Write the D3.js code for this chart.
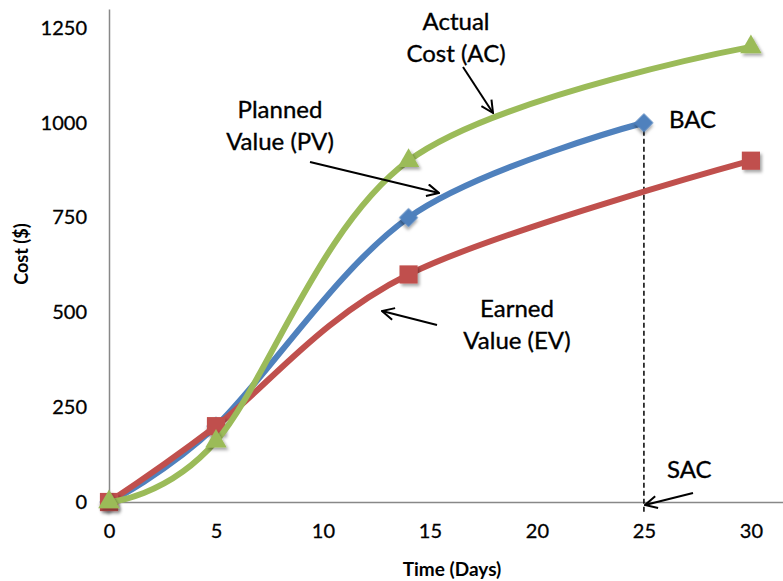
<!DOCTYPE html>
<html>
<head>
<meta charset="utf-8">
<script src="https://cdn.jsdelivr.net/npm/d3@7"></script>
<style>
  html, body { margin: 0; padding: 0; background: #fff; }
  svg { display: block; font-family: Lato, "Noto Sans", sans-serif; }
</style>
</head>
<body>
<svg id="chart" width="783" height="581"></svg>
<script>
// Earned value curves: cost in dollars against time in days
const pvDays = [0, 5, 14, 25];
const pvValues = [0, 200, 750, 1000];
const evDays = [0, 5, 14, 30];
const evValues = [0, 200, 600, 900];
const acDays = [0, 5, 14, 30];
const acValues = [0, 160, 900, 1200];

const xTicks = [0, 5, 10, 15, 20, 25, 30];
const yTicks = [0, 250, 500, 750, 1000, 1250];
const xTitle = "Time (Days)";
const yTitle = "Cost ($)";
const bacDay = 25;
const bacValue = 1000;

const svg = d3.select("#chart");
const x = d3.scaleLinear().domain([0, 31.5]).range([109, 783]);
const y = d3.scaleLinear().domain([0, 1300]).range([502, 9]);

const defs = svg.append("defs");
const shadow = defs.append("filter").attr("id", "shadow")
  .attr("x", "-50%").attr("y", "-50%").attr("width", "200%").attr("height", "200%");
shadow.append("feDropShadow").attr("dx", 2).attr("dy", 2.5)
  .attr("stdDeviation", 1.4).attr("flood-color", "#000").attr("flood-opacity", 0.35);
defs.append("marker").attr("id", "arrow")
  .attr("viewBox", "0 0 14 14").attr("refX", 13).attr("refY", 7)
  .attr("markerWidth", 14).attr("markerHeight", 14)
  .attr("markerUnits", "userSpaceOnUse").attr("orient", "auto")
  .append("path").attr("d", "M1,1 L13,7 L1,13")
  .attr("fill", "none").attr("stroke", "#000").attr("stroke-width", 2);

// Axes
const axisColor = "#888";
const gx = svg.append("g").attr("transform", `translate(0,${y(0)})`)
  .call(d3.axisBottom(x).tickValues(xTicks).tickFormat(d3.format("d"))
    .tickSize(0).tickSizeOuter(0).tickPadding(22));
const gy = svg.append("g").attr("transform", `translate(${x(0)},0)`)
  .call(d3.axisLeft(y).tickValues(yTicks).tickFormat(d3.format("d"))
    .tickSize(0).tickSizeOuter(0).tickPadding(22));
[gx, gy].forEach(g => {
  g.select(".domain").attr("stroke", axisColor).attr("stroke-width", 1.5);
  g.selectAll("text").attr("font-size", 20).attr("fill", "#000")
    .attr("font-family", "Lato, sans-serif")
    .attr("stroke", "#000").attr("stroke-width", 0.3);
});

svg.append("text").attr("x", 452).attr("y", 576).attr("text-anchor", "middle")
  .attr("font-size", 19).attr("font-weight", "bold").text(xTitle);
svg.append("text").attr("transform", "translate(28,254) rotate(-90)")
  .attr("text-anchor", "middle").attr("font-size", 18).attr("font-weight", "bold").text(yTitle);

// BAC drop line
svg.append("line")
  .attr("x1", x(bacDay)).attr("x2", x(bacDay))
  .attr("y1", y(bacValue)).attr("y2", y(0) + 11)
  .attr("stroke", "#000").attr("stroke-width", 1.5).attr("stroke-dasharray", "5,3");

// Series
const series = [
  { key: "pv", days: pvDays, values: pvValues, color: "#4F81BD", shape: "diamond" },
  { key: "ev", days: evDays, values: evValues, color: "#C0504D", shape: "square" },
  { key: "ac", days: acDays, values: acValues, color: "#9BBB59", shape: "triangle" }
];
const line = d3.line().x(d => x(d[0])).y(d => y(d[1])).curve(d3.curveCardinal.tension(0));

const symbols = {
  diamond: d3.symbol(d3.symbolSquare, 180),
  square: d3.symbol(d3.symbolSquare, 330),
  triangle: d3.symbol(d3.symbolTriangle, 200)
};

series.forEach(s => {
  const pts = s.days.map((d, i) => [d, s.values[i]]);
  const g = svg.append("g").attr("class", "series-" + s.key);
  g.append("path").datum(pts).attr("d", line)
    .attr("fill", "none").attr("stroke", s.color).attr("stroke-width", 6)
    .attr("stroke-linejoin", "round").attr("stroke-linecap", "round");
  g.selectAll("path.mark").data(pts).join("path").attr("class", "mark")
    .attr("d", symbols[s.shape])
    .attr("transform", d => `translate(${x(d[0])},${y(d[1])})` + (s.shape === "diamond" ? " rotate(45)" : ""))
    .attr("fill", s.color).attr("filter", "url(#shadow)");
});

// Callouts
const labelSize = 24;
const labels = [
  { lines: ["Actual", "Cost (AC)"], x: 456, y: 30, anchor: "middle" },
  { lines: ["Planned", "Value (PV)"], x: 280, y: 118, anchor: "middle" },
  { lines: ["Earned", "Value (EV)"], x: 517, y: 317, anchor: "middle" },
  { lines: ["BAC"], x: 669, y: 128, anchor: "start" },
  { lines: ["SAC"], x: 667, y: 478, anchor: "start" }
];
labels.forEach(l => {
  const t = svg.append("text").attr("x", l.x).attr("y", l.y)
    .attr("text-anchor", l.anchor).attr("font-size", labelSize).attr("fill", "#000")
    .attr("stroke", "#000").attr("stroke-width", 0.35);
  l.lines.forEach((s, i) => t.append("tspan").attr("x", l.x).attr("dy", i ? 32 : 0).text(s));
});

const arrows = [
  [463, 67, 493, 113],
  [310, 162, 439, 193],
  [437, 325, 382, 311],
  [693, 493, 645, 505]
];
arrows.forEach(a => {
  svg.append("line").attr("x1", a[0]).attr("y1", a[1]).attr("x2", a[2]).attr("y2", a[3])
    .attr("stroke", "#000").attr("stroke-width", 2).attr("marker-end", "url(#arrow)");
});
</script>
</body>
</html>
